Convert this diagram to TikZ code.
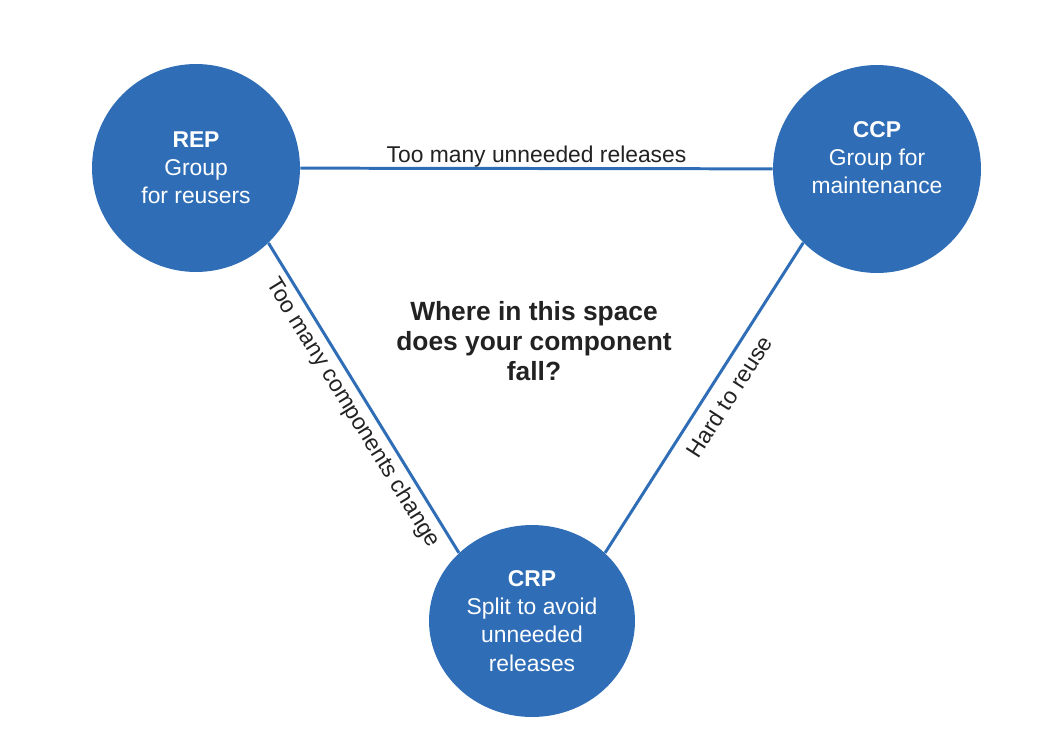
\documentclass[tikz,border=0pt]{standalone}
\usepackage{fontspec}
\setmainfont{Liberation Sans}
\usetikzlibrary{shapes.geometric}

\definecolor{prinblue}{RGB}{47,110,183}
\definecolor{labelgray}{RGB}{34,34,34}

\begin{document}
\begin{tikzpicture}[x=0.02cm, y=-0.02cm,
	principle/.style={circle, fill=prinblue, text=white, inner sep=0pt,
		minimum size=4.16cm, align=center, font=\fontsize{13}{16}\selectfont},
	tradeoff/.style={draw=prinblue, line width=1.7pt},
	edgelabel/.style={text=labelgray, inner sep=3pt, font=\fontsize{13}{16}\selectfont},
	question/.style={text=labelgray, align=center, font=\bfseries\fontsize{15}{17}\selectfont}]

	\useasboundingbox (0,0) rectangle (1040,740);

	% ---- principles

	\node[principle] (REP) at (196,168) {\textbf{REP}\\Group\\for reusers};
	\node[principle] (CCP) at (877,169) {\textbf{CCP}\\Group for\\maintenance\\[-8pt]\strut};
	\node[principle, ellipse, minimum width=4.12cm, minimum height=3.84cm]
		(CRP) at (532,621) {\textbf{CRP}\\Split to avoid\\unneeded\\releases};

	% ---- question

	\node[question] (Q) at (534,341) {Where in this space\\does your component\\fall?};

	% ---- trade-offs

	\draw[tradeoff] (REP) -- node[edgelabel, above, inner sep=0pt] {Too many unneeded releases} (CCP);
	\draw[tradeoff] (REP.-46) -- node[edgelabel, sloped, below, pos=0.52]
		{Too many components change} (CRP.137);
	\draw[tradeoff] (CRP.43) -- node[edgelabel, sloped, below, pos=0.54, inner sep=6pt]
		{Hard to reuse} (CCP.-135);

\end{tikzpicture}
\end{document}
